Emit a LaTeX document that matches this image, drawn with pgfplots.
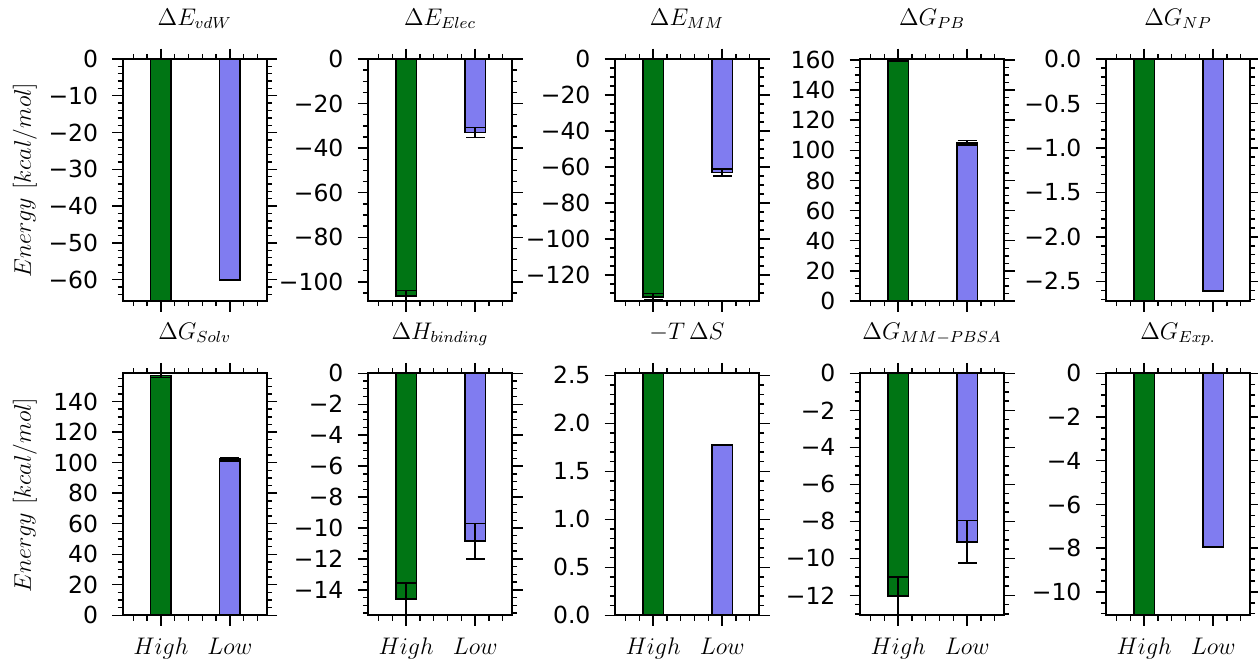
\documentclass[border=0pt]{standalone}
\usepackage{pgfplots}
\pgfplotsset{compat=1.18}
\usepackage{fontspec}
\newfontfamily\tickfont{DejaVu Sans}
\definecolor{hi}{RGB}{0,117,20}
\definecolor{lo}{RGB}{128,124,240}
\pgfplotsset{
 panel/.style={
  scale only axis, width=72pt, height=121pt, anchor=north west,
  xmin=-0.553, xmax=1.534, xtick={0,1},
  minor xtick={-0.4,-0.2,0.2,0.4,0.6,0.8,1.2,1.4},
  xticklabels={},
  tick align=outside, major tick length=5.25pt, minor tick length=2.6pt,
  every tick/.append style={black, line width=0.7pt},
  axis line style={line width=1pt},
  axis on top,
  tick label style={font=\fontsize{11.75}{12}\selectfont\tickfont},
  yticklabel style={xshift=-3.5pt},
  xticklabel style={yshift=-2.5pt},
  title style={font=\fontsize{11.5}{12}\selectfont, at={(0.5,1)}, anchor=base, yshift=11pt},
 },
 bottomrow/.style={xticklabels={$High$,$Low$}},
 hib/.style={ybar, bar shift=0pt, bar width=0.3, fill=hi, draw=black, line width=0.9pt},
 lob/.style={ybar, bar shift=0pt, bar width=0.3, fill=lo, draw=black, line width=0.9pt},
 eb/.style={error bars/.cd, y dir=both, y explicit, error bar style={line width=0.75pt, black}, error mark options={rotate=90, black, mark size=4.75pt, line width=0.75pt}},
}
\begin{document}
\begin{tikzpicture}
\path[use as bounding box] (0,0) rectangle (629pt,-330pt);
% ---------- row 1 ----------
\begin{axis}[panel, at={(61.35pt,-29.5pt)}, title={$\Delta E_{vdW}$},
  ymin=-65.8, ymax=0, ytick={0,-10,-20,-30,-40,-50,-60},
  yticklabels={0,−10,−20,−30,−40,−50,−60}, minor ytick={-64,-62,...,-2}]
\addplot[hib, eb] coordinates {(0,-65.8) +- (0,0.05)};
\addplot[lob, eb] coordinates {(1,-60.15) +- (0,0.1)};
\end{axis}
\begin{axis}[panel, at={(184pt,-29.5pt)}, title={$\Delta E_{Elec}$},
  ymin=-108.6, ymax=0, ytick={0,-20,-40,-60,-80,-100},
  yticklabels={0,−20,−40,−60,−80,−100}, minor ytick={-105,-100,...,-5}]
\addplot[hib, eb] coordinates {(0,-106.2) +- (0,2.4)};
\addplot[lob, eb] coordinates {(1,-33.0) +- (0,2.2)};
\end{axis}
\begin{axis}[panel, at={(307.5pt,-29.5pt)}, title={$\Delta E_{MM}$},
  ymin=-134.4, ymax=0, ytick={0,-20,-40,-60,-80,-100,-120},
  yticklabels={0,−20,−40,−60,−80,−100,−120}, minor ytick={-130,-125,...,-5}]
\addplot[hib, eb] coordinates {(0,-132.0) +- (0,1.8)};
\addplot[lob, eb] coordinates {(1,-63.0) +- (0,1.9)};
\end{axis}
\begin{axis}[panel, at={(430pt,-29.5pt)}, title={$\Delta G_{PB}$},
  ymin=0, ymax=160.6, ytick={0,20,40,60,80,100,120,140,160},
  yticklabels={0,20,40,60,80,100,120,140,160}, minor ytick={5,10,...,155}]
\addplot[hib, eb] coordinates {(0,159.7) +- (0,0.9)};
\addplot[lob, eb] coordinates {(1,105.0) +- (0,1.5)};
\end{axis}
\begin{axis}[panel, at={(553pt,-29.5pt)}, title={$\Delta G_{NP}$},
  ymin=-2.72, ymax=0, ytick={0,-0.5,-1,-1.5,-2,-2.5},
  yticklabels={0.0,−0.5,−1.0,−1.5,−2.0,−2.5}, minor ytick={-2.7,-2.6,...,-0.1}]
\addplot[hib] coordinates {(0,-2.72)};
\addplot[lob] coordinates {(1,-2.61)};
\end{axis}
% ---------- row 2 ----------
\begin{axis}[panel, bottomrow, at={(61.35pt,-186.65pt)}, title={$\Delta G_{Solv}$},
  ymin=0, ymax=158.5, ytick={0,20,40,60,80,100,120,140},
  yticklabels={0,20,40,60,80,100,120,140}, minor ytick={5,10,...,155}]
\addplot[hib, eb] coordinates {(0,157.1) +- (0,1.4)};
\addplot[lob, eb] coordinates {(1,102.3) +- (0,1.1)};
\end{axis}
\begin{axis}[panel, bottomrow, at={(184pt,-186.65pt)}, title={$\Delta H_{binding}$},
  ymin=-15.65, ymax=0, ytick={0,-2,-4,-6,-8,-10,-12,-14},
  yticklabels={0,−2,−4,−6,−8,−10,−12,−14}, minor ytick={-15.5,-15,...,-0.5}]
\addplot[hib, eb] coordinates {(0,-14.6) +- (0,1.05)};
\addplot[lob, eb] coordinates {(1,-10.87) +- (0,1.15)};
\end{axis}
\begin{axis}[panel, bottomrow, at={(307.5pt,-186.65pt)}, title={$-T\,\Delta S$},
  ymin=0, ymax=2.52, ytick={0,0.5,1,1.5,2,2.5},
  yticklabels={0.0,0.5,1.0,1.5,2.0,2.5}, minor ytick={0.1,0.2,...,2.5}]
\addplot[hib] coordinates {(0,2.52)};
\addplot[lob] coordinates {(1,1.775)};
\end{axis}
\begin{axis}[panel, bottomrow, at={(430pt,-186.65pt)}, title={$\Delta G_{MM-PBSA}$},
  ymin=-13.08, ymax=0, ytick={0,-2,-4,-6,-8,-10,-12},
  yticklabels={0,−2,−4,−6,−8,−10,−12}, minor ytick={-13,-12.5,...,-0.5}]
\addplot[hib, eb] coordinates {(0,-12.04) +- (0,1.04)};
\addplot[lob, eb] coordinates {(1,-9.1) +- (0,1.14)};
\end{axis}
\begin{axis}[panel, bottomrow, at={(553pt,-186.65pt)}, title={$\Delta G_{Exp.}$},
  ymin=-11.07, ymax=0, ytick={0,-2,-4,-6,-8,-10},
  yticklabels={0,−2,−4,−6,−8,−10}, minor ytick={-11,-10.5,...,-0.5}]
\addplot[hib] coordinates {(0,-11.07)};
\addplot[lob] coordinates {(1,-7.93)};
\end{axis}
% y labels
\node[rotate=90, font=\fontsize{13}{13}\selectfont] at (12.5pt,-90pt) {$Energy\ [kcal/mol]$};
\node[rotate=90, font=\fontsize{13}{13}\selectfont] at (12.5pt,-247.5pt) {$Energy\ [kcal/mol]$};
\end{tikzpicture}
\end{document}
